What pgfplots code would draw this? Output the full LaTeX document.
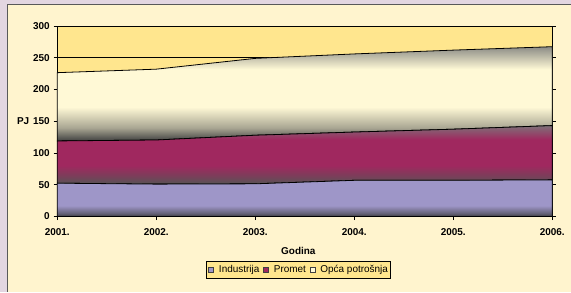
\documentclass[border=0pt]{standalone}
\usepackage{pgfplots}
\pgfplotsset{compat=1.18}
\usepackage{fontspec}
\setmainfont{Liberation Sans}
\definecolor{outerbg}{HTML}{E3D6E1}
\definecolor{chartbg}{HTML}{FFF4CE}
\definecolor{plotbg}{HTML}{FFE68E}
\definecolor{ind}{HTML}{9E96C8}
\definecolor{prom}{HTML}{A0285F}
\definecolor{opca}{HTML}{FFF9D6}
\definecolor{gA}{HTML}{3A3A3A}
\definecolor{gB}{HTML}{555555}
\definecolor{gC}{HTML}{7E7078}
\definecolor{gD}{HTML}{404040}
\definecolor{gE}{HTML}{8C8C86}
\pgfdeclareverticalshading{indsh}{100bp}{color(0bp)=(gA); color(25bp)=(gA); color(29bp)=(ind!40!gA); color(40bp)=(ind); color(100bp)=(ind)}
\pgfdeclareverticalshading{promsh}{100bp}{color(0bp)=(gB); color(25bp)=(gB); color(32bp)=(prom!50!gB); color(41bp)=(prom); color(63bp)=(prom); color(75bp)=(gC); color(100bp)=(gC)}
\pgfdeclareverticalshading{opcash}{100bp}{color(0bp)=(gD); color(25bp)=(gD); color(32bp)=(opca!55!gD); color(43bp)=(opca); color(63bp)=(opca); color(75bp)=(gE); color(100bp)=(gE)}
\begin{document}
\begin{tikzpicture}
\fill[outerbg] (0,0) rectangle (571bp,292bp);
\fill[chartbg] (7bp,0) rectangle (571bp,287.3bp);
\draw[black!65, line width=0.9bp] (7bp,0) -- (7bp,287.3bp) -- (571bp,287.3bp);
\begin{axis}[
  at={(57.3bp,75.3bp)}, anchor=south west,
  scale only axis, width=495.4bp, height=190.7bp,
  xmin=2001, xmax=2006, ymin=0, ymax=300,
  xtick={2001,2002,2003,2004,2005,2006},
  xticklabels={2001.,2002.,2003.,2004.,2005.,2006.},
  ytick={0,50,100,150,200,250,300},
  /pgf/number format/assume math mode=true,
  tick align=outside, major tick length=3.7bp,
  xtick pos=bottom, ytick pos=both,
  tick style={black, line width=0.75bp},
  ticklabel style={font=\bfseries\fontsize{10}{12}\selectfont, inner sep=0pt},
  xticklabel style={anchor=north, yshift=-8.6bp},
  yticklabel style={anchor=east, xshift=-3.6bp},
  axis line style={black, line width=0.9bp},
  axis background/.style={fill=plotbg},
  ymajorgrids, grid style={black, line width=0.75bp},
  stack plots=y,
  clip=false,
  xlabel={Godina},
  xlabel style={at={(axis description cs:0.487,-0.18)}, anchor=center, inner sep=0pt, font=\bfseries\fontsize{10}{12}\selectfont},
  legend style={at={(axis description cs:0.487,-0.2795)}, anchor=center, fill=plotbg, draw=black, line width=0.6bp,
    font=\fontsize{10}{12}\selectfont, inner xsep=2.2bp, inner ysep=4bp,
    /tikz/every even column/.append style={column sep=3.2bp},
    /tikz/every odd column/.append style={column sep=4.5bp},
    nodes={inner sep=0.5bp}},
  legend columns=-1,
  legend image code/.code={\draw[#1, draw=black!75, line width=0.6bp] (0bp,-2.6bp) rectangle (5.2bp,2.6bp);},
]
\addlegendimage{fill=ind}
\addlegendentry{Industrija}
\addlegendimage{fill=prom}
\addlegendentry{Promet}
\addlegendimage{fill=opca}
\addlegendentry{Opća potrošnja}
\addplot[forget plot, shade, shading=indsh, draw=black, line width=0.8bp] coordinates {
  (2001,52.5) (2002,51) (2003,51.5) (2004,57) (2005,57) (2006,57.7)} \closedcycle;
\addplot[forget plot, shade, shading=promsh, draw=black, line width=0.8bp] coordinates {
  (2001,66.5) (2002,69.5) (2003,76.5) (2004,76) (2005,80.5) (2006,85.5)} \closedcycle;
\addplot[forget plot, shade, shading=opcash, draw=black, line width=0.8bp] coordinates {
  (2001,107.5) (2002,111.5) (2003,121) (2004,123) (2005,124.5) (2006,124.2)} \closedcycle;
\node[anchor=east, inner sep=0pt, font=\bfseries\fontsize{10}{12}\selectfont] at (rel axis cs:0,0.5) [xshift=-27.8bp] {PJ};
\end{axis}
\end{tikzpicture}
\end{document}
